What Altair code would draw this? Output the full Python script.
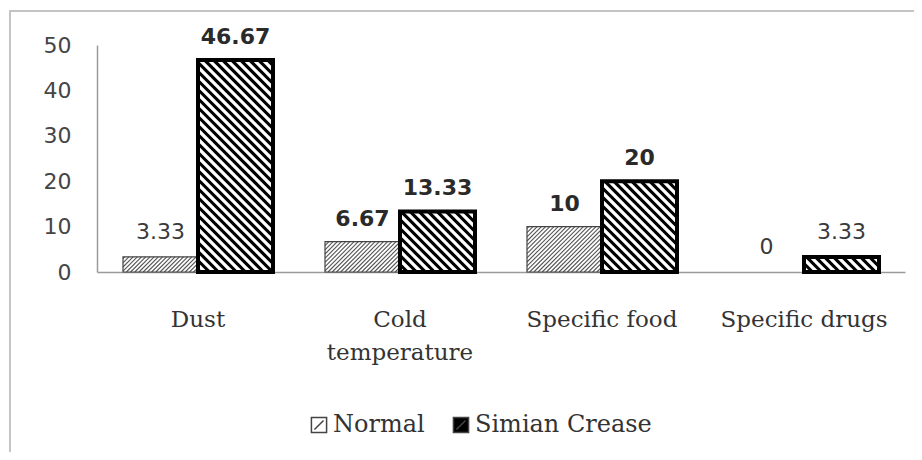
import altair as alt
import pandas as pd

categories = ["Dust", "Cold temperature", "Specific food", "Specific drugs"]
category_labels = ["Dust", "Cold\ntemperature", "Specific food", "Specific drugs"]
series = ["Normal", "Simian Crease"]
normal_values = [3.33, 6.67, 10, 0]
simian_values = [46.67, 13.33, 20, 3.33]
y_ticks = [0, 10, 20, 30, 40, 50]

# layout (pixels)
W, H = 808, 227
X_MAX, Y_MAX = 4, 50
PX_X = W / X_MAX
PX_Y = H / Y_MAX
BAR_W = 75 / PX_X

rows = []
for i, c in enumerate(categories):
    center = i + 0.5
    rows.append(dict(category=c, series="Normal", value=normal_values[i],
                     x0=center - BAR_W, x1=center, xc=center - BAR_W / 2))
    rows.append(dict(category=c, series="Simian Crease", value=simian_values[i],
                     x0=center, x1=center + BAR_W, xc=center + BAR_W / 2))
bars = pd.DataFrame(rows)
bars["label"] = bars["value"].map(lambda v: f"{v:g}")


def hatch(df, direction, period):
    segs = []
    for _, r in df.iterrows():
        if r["value"] <= 0:
            continue
        x0, x1 = r["x0"] * PX_X, r["x1"] * PX_X
        h = r["value"] * PX_Y
        k_start = int((x0 - h) // period) - 1
        k_end = int((x1 + h) // period) + 2
        for k in range(k_start, k_end):
            a = k * period
            if direction > 0:  # "/"  y = x - a
                xs, xe = max(x0, a), min(x1, a + h)
                if xe - xs <= 0.3:
                    continue
                ys, ye = xs - a, xe - a
            else:  # "\"  y = a - x
                xs, xe = max(x0, a - h), min(x1, a)
                if xe - xs <= 0.3:
                    continue
                ys, ye = a - xs, a - xe
            segs.append(dict(hx=xs / PX_X, hx2=xe / PX_X,
                             hy=ys / PX_Y, hy2=ye / PX_Y))
    return pd.DataFrame(segs)


normal_hatch = hatch(bars[bars.series == "Normal"], +1, 4.2)
simian_hatch = hatch(bars[bars.series == "Simian Crease"], -1, 9.0)

xscale = alt.Scale(domain=[0, X_MAX], nice=False, zero=False)
yscale = alt.Scale(domain=[0, Y_MAX], nice=False)

base = alt.Chart(bars)

filled = base.mark_rect().encode(
    x=alt.X("x0:Q", scale=xscale,
            axis=alt.Axis(title=None, labels=False, ticks=False, tickSize=0,
                          grid=False, domainColor="#9a9a9a", domainWidth=1.5)),
    x2="x1:Q",
    y=alt.Y("value:Q", scale=yscale,
            axis=alt.Axis(title=None, values=y_ticks, ticks=False, tickSize=0,
                          grid=False, domainColor="#9a9a9a", domainWidth=1.5,
                          labelFont="DejaVu Sans", labelFontSize=22,
                          labelColor="#454545", labelPadding=26)),
    y2=alt.datum(0),
    fill=alt.Fill("series:N",
                  scale=alt.Scale(domain=series, range=["white", "black"]),
                  legend=alt.Legend(title=None, orient="none", direction="horizontal",
                                    legendX=210, legendY=368,
                                    symbolType="M-1,-1H1V1H-1Z M-0.6,0.6L0.6,-0.6",
                                    symbolSize=230, symbolStrokeColor="#444",
                                    symbolStrokeWidth=1.5,
                                    labelFont="DejaVu Serif", labelFontSize=24,
                                    labelColor="#333", labelOffset=2,
                                    columnPadding=24, labelLimit=300)),
)

n_hatch = alt.Chart(normal_hatch).mark_rule(color="#555", strokeWidth=1.1).encode(
    x=alt.X("hx:Q", scale=xscale), x2="hx2:Q",
    y=alt.Y("hy:Q", scale=yscale), y2="hy2:Q",
)
s_hatch = alt.Chart(simian_hatch).mark_rule(color="white", strokeWidth=3.2,
                                            strokeCap="butt").encode(
    x=alt.X("hx:Q", scale=xscale), x2="hx2:Q",
    y=alt.Y("hy:Q", scale=yscale), y2="hy2:Q",
)

n_outline = base.transform_filter("datum.series == 'Normal' && datum.value > 0").mark_rect(
    fillOpacity=0, stroke="#444", strokeWidth=1.2).encode(
    x=alt.X("x0:Q", scale=xscale), x2="x1:Q",
    y=alt.Y("value:Q", scale=yscale), y2=alt.datum(0),
)
s_outline = base.transform_filter("datum.series == 'Simian Crease'").mark_rect(
    fillOpacity=0, stroke="black", strokeWidth=4, strokeJoin="miter").encode(
    x=alt.X("x0:Q", scale=xscale), x2="x1:Q",
    y=alt.Y("value:Q", scale=yscale), y2=alt.datum(0),
)

labels_bold = base.transform_filter("datum.value >= 5").mark_text(
    font="DejaVu Sans", fontSize=22, fontWeight="bold", color="#2a2a2a",
    baseline="alphabetic", dy=-16).encode(
    x=alt.X("xc:Q", scale=xscale), y=alt.Y("value:Q", scale=yscale), text="label:N")
labels_reg = base.transform_filter("datum.value < 5").mark_text(
    font="DejaVu Sans", fontSize=22, color="#3a3a3a",
    baseline="alphabetic", dy=-18).encode(
    x=alt.X("xc:Q", scale=xscale), y=alt.Y("value:Q", scale=yscale), text="label:N")

cat_df = pd.DataFrame({"pos": [i + 0.5 for i in range(len(categories))],
                       "label": category_labels})
cat_text = alt.Chart(cat_df).mark_text(
    font="DejaVu Serif", fontSize=23, color="#333", baseline="alphabetic",
    lineBreak="\n", lineHeight=33).encode(
    x=alt.X("pos:Q", scale=xscale), y=alt.value(282), text="label:N")

frame_df = pd.DataFrame({"k": [0]})
frame_top = alt.Chart(frame_df).mark_rule(color="#c4c4c4", strokeWidth=2).encode(
    x=alt.value(-87), x2=alt.value(840), y=alt.value(-34))
frame_left = alt.Chart(frame_df).mark_rule(color="#c4c4c4", strokeWidth=2).encode(
    x=alt.value(-87), y=alt.value(-35), y2=alt.value(430))

chart = alt.layer(
    frame_top, frame_left, filled, n_hatch, s_hatch, n_outline, s_outline,
    labels_bold, labels_reg, cat_text
).properties(
    width=W, height=H,
    autosize=alt.AutoSizeParams(type="none"),
    padding={"left": 89, "top": 37, "right": 9, "bottom": 180},
    background="white",
).configure_view(stroke=None)

chart.save("out.html", embed_options={"renderer": "svg", "actions": False})
